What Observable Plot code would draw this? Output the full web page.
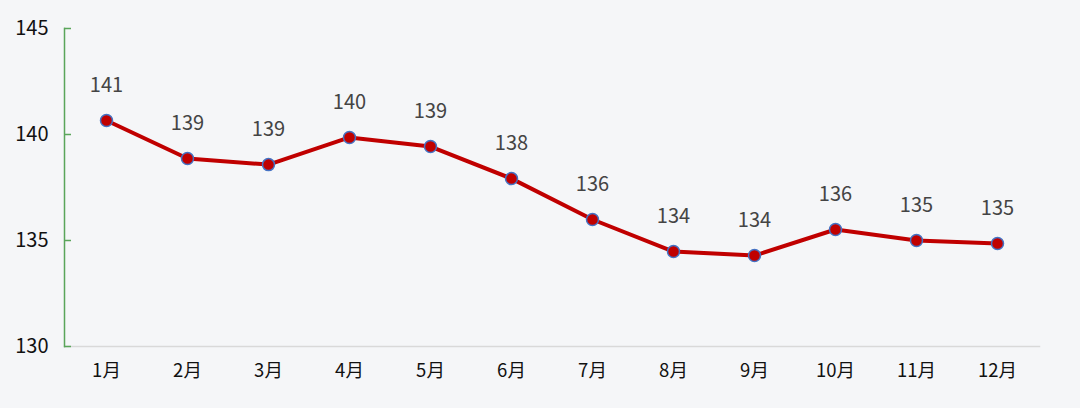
<!DOCTYPE html>
<html><head><meta charset="utf-8">
<script src="https://cdn.jsdelivr.net/npm/d3@7"></script>
<script src="https://cdn.jsdelivr.net/npm/@observablehq/plot@0.6"></script>
<style>
html,body{margin:0;padding:0;background:#f5f6f8;}
svg{display:block;}
</style>
</head><body><div id="chart"></div>
<script>
const months = ["1月","2月","3月","4月","5月","6月","7月","8月","9月","10月","11月","12月"];
const values = [140.66,138.87,138.58,139.86,139.43,137.92,135.99,134.48,134.29,135.52,135.0,134.86];
const yTicks = [130,135,140,145];
const data = months.map((m,i)=>({month:m, value:values[i]}));
const font = "'Noto Sans CJK SC','Noto Sans',sans-serif";
const chart = Plot.plot({
  width:1080, height:408,
  marginLeft:64, marginRight:41, marginTop:28, marginBottom:62,
  style:{background:"#f5f6f8", fontFamily:font},
  x:{type:"point", domain:months, padding:0.48},
  y:{domain:[130,145]},
  marks:[
    Plot.frame({anchor:"bottom", stroke:"#d9d9d9", strokeWidth:1.5}),
    Plot.frame({anchor:"left", stroke:"#5aa55a", strokeWidth:1.5}),
    Plot.axisY({ticks:yTicks, tickSize:7, dx:7, text:null, label:null, stroke:"#5aa55a", strokeWidth:1.5}),
    Plot.axisY({ticks:yTicks, tickSize:0, tickPadding:16, fontSize:20, fill:"#111", label:null}),
    Plot.axisX({tickSize:0, tickPadding:17, fontSize:18.5, fill:"#111", label:null}),
    Plot.line(data,{x:"month", y:"value", stroke:"#c00000", strokeWidth:4}),
    Plot.dot(data,{x:"month", y:"value", r:6, fill:"#c00000", stroke:"#4472c4", strokeWidth:1.5}),
    Plot.text(data,{x:"month", y:"value", text:d=>d3.format(".0f")(d.value), dy:-35, fontSize:20, fill:"#444"})
  ]
});
document.getElementById("chart").appendChild(chart);
</script>
</body></html>
